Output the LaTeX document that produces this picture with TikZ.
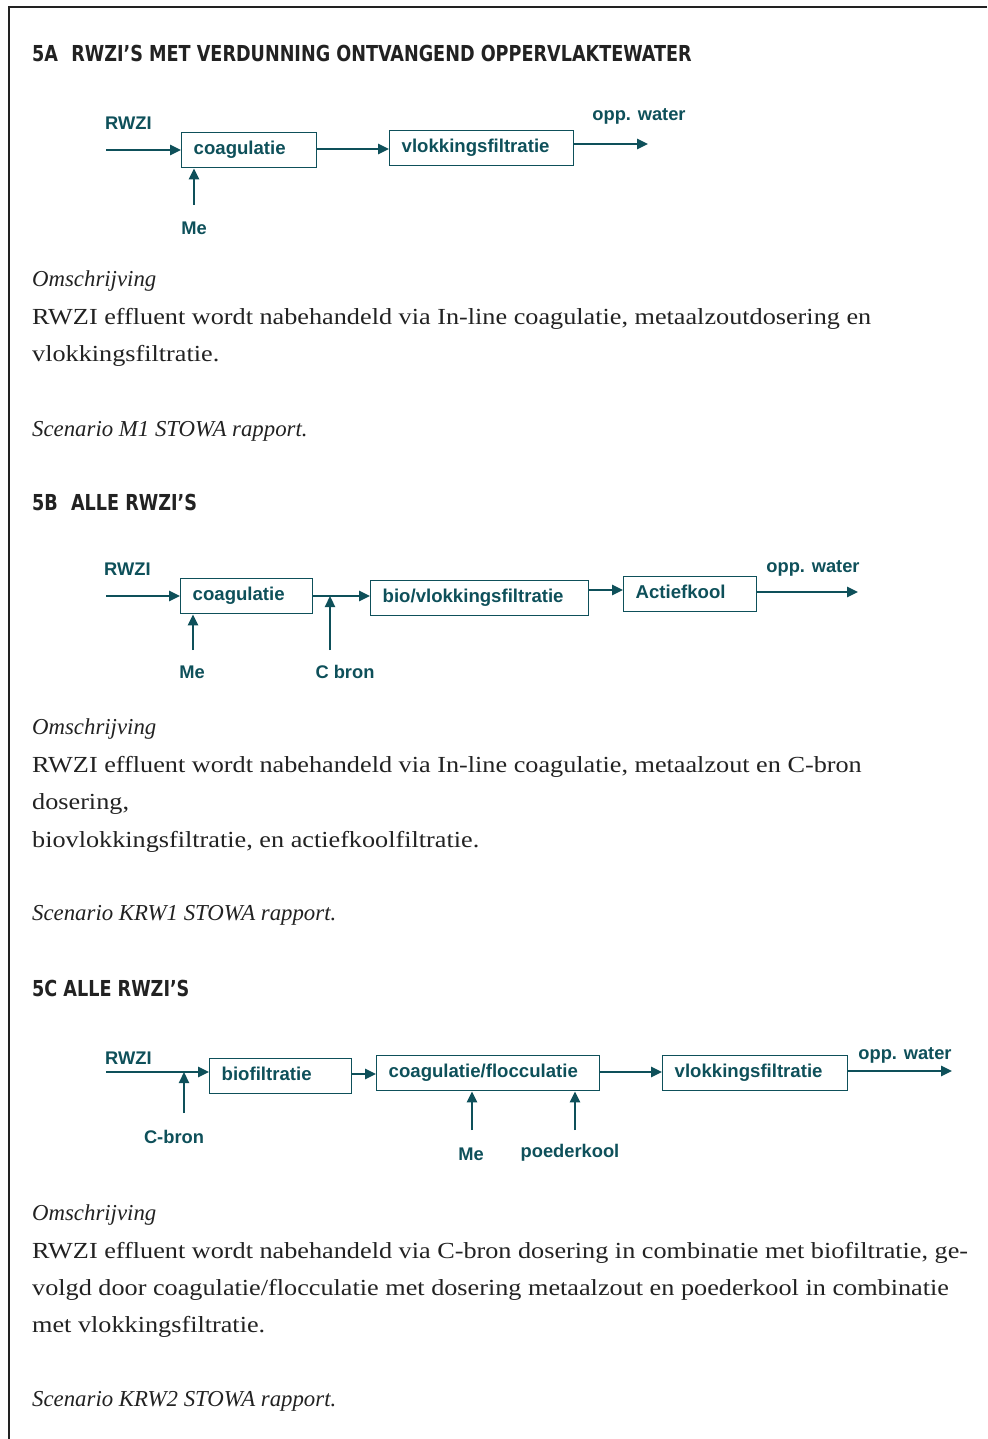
\documentclass[tikz,border=0pt]{standalone}
\usepackage{fontspec}
\setmainfont{Liberation Serif}
\newfontfamily\bodyrm[FakeStretch=1.14]{Liberation Serif}
\newfontfamily\diagfont{Liberation Sans}
\newfontfamily\headfont[FakeStretch=0.89]{DejaVu Sans Condensed}
\usetikzlibrary{arrows.meta}
\definecolor{teal}{RGB}{14,80,90}
\definecolor{ink}{RGB}{34,34,34}
\tikzset{
  frame/.style={draw=ink, line width=1.5pt},
  heading/.style={anchor=base west, inner sep=0pt, text=ink, font=\headfont\bfseries\fontsize{22}{26}\selectfont},
  body/.style={anchor=base west, inner sep=0pt, text=ink, font=\bodyrm\fontsize{23}{27}\selectfont},
  bodyit/.style={anchor=base west, inner sep=0pt, text=ink, font=\rmfamily\itshape\fontsize{22.8}{27}\selectfont},
  box/.style={draw=teal, line width=1.4pt, anchor=north west, align=left, inner xsep=12pt, inner ysep=0pt,
    minimum height=35pt, text height=13pt, text depth=4pt, text=teal, font=\diagfont\bfseries\fontsize{18.6}{20}\selectfont},
  lab/.style={inner sep=0pt, text=teal, font=\diagfont\bfseries\fontsize{18.3}{20}\selectfont},
  arr/.style={draw=teal, line width=2.5pt, -{Triangle[length=11pt,width=10pt]}},
  tap/.style={draw=teal, line width=2.3pt, -{Triangle[length=11pt,width=10pt]}},
}
\begin{document}
\begin{tikzpicture}[x=1pt, y=-1pt]
\useasboundingbox (0,0) rectangle (987,1439);
\fill[white] (0,0) rectangle (987,1439);
\draw[frame] (987,7) -- (9,7) -- (9,1439);

% ---------- 5A ----------
\node[heading] (h5a) at (32,62) {5A\hspace{0.6em}RWZI’S MET VERDUNNING ONTVANGEND OPPERVLAKTEWATER};

\node[lab, anchor=west] (rwziA) at (105,123) {RWZI};
\coordinate (inA) at (106,150);
\node[box, text width=111pt] (coagA) at (181,132) {coagulatie};
\node[box, text width=160pt] (vlokA) at (389,130) {vlokkingsfiltratie};
\node[lab] (meA) at (194,228) {Me};
\coordinate (meA0) at (194,205);
\node[lab] (oppA) at (639,116) {opp. water};
\coordinate (outA) at (648,144);
\draw[arr] (inA) -- (inA -| coagA.west);
\draw[tap] (meA0) -- (meA0 |- coagA.south);
\draw[arr] (coagA.east |- 0,149) -- (vlokA.west |- 0,149);
\draw[arr] (vlokA.east |- outA) -- (outA);

\node[bodyit] (omA) at (32,286) {Omschrijving};
\node[body] (tA1) at (32,324) {RWZI effluent wordt nabehandeld via In-line coagulatie, metaalzoutdosering en};
\node[body] (tA2) at (32,361) {vlokkingsfiltratie.};
\node[bodyit] (scA) at (32,436) {Scenario M1 STOWA rapport.};

% ---------- 5B ----------
\node[heading] (h5b) at (32,510) {5B\hspace{0.6em}ALLE RWZI’S};

\node[lab, anchor=west] (rwziB) at (104,569) {RWZI};
\coordinate (inB) at (106,596);
\node[box, text width=108pt] (coagB) at (180,578) {coagulatie};
\node[box, text width=194pt] (bioB) at (370,580) {bio/vlokkingsfiltratie};
\node[box, text width=109pt] (actB) at (623,576) {Actiefkool};
\node[lab] (meB) at (192,672) {Me};
\coordinate (meB0) at (193,650);
\node[lab] (cbB) at (345,672) {C bron};
\coordinate (cbB0) at (330,650);
\node[lab] (oppB) at (813,568) {opp. water};
\coordinate (outB) at (858,592);
\draw[arr] (inB) -- (inB -| coagB.west);
\draw[tap] (meB0) -- (meB0 |- coagB.south);
\draw[arr] (coagB.east |- 0,596) -- (bioB.west |- 0,596);
\draw[tap] (cbB0) -- (cbB0 |- 0,596);
\draw[arr] (bioB.east |- 0,590) -- (actB.west |- 0,590);
\draw[arr] (actB.east |- outB) -- (outB);

\node[bodyit] (omB) at (32,734) {Omschrijving};
\node[body] (tB1) at (32,772) {RWZI effluent wordt nabehandeld via In-line coagulatie, metaalzout en C-bron};
\node[body] (tB2) at (32,809) {dosering,};
\node[body] (tB3) at (32,847) {biovlokkingsfiltratie, en actiefkoolfiltratie.};
\node[bodyit] (scB) at (32,920) {Scenario KRW1 STOWA rapport.};

% ---------- 5C ----------
\node[heading] (h5c) at (32,996) {5C ALLE RWZI’S};

\node[lab, anchor=west] (rwziC) at (105,1058) {RWZI};
\coordinate (inC) at (106,1072);
\node[box, text width=118pt] (bioC) at (209,1058) {biofiltratie};
\node[box, text width=199pt] (coagC) at (376,1055) {coagulatie/flocculatie};
\node[box, text width=161pt] (vlokC) at (662,1055) {vlokkingsfiltratie};
\node[lab] (cbC) at (174,1137) {C-bron};
\coordinate (cbC0) at (184,1113);
\node[lab] (meC) at (471,1154) {Me};
\coordinate (meC0) at (472,1130);
\node[lab] (pkC) at (570,1153) {poederkool};
\coordinate (pkC0) at (575,1130);
\node[lab] (oppC) at (905,1055) {opp. water};
\coordinate (outC) at (952,1071);
\draw[arr] (inC) -- (inC -| bioC.west);
\draw[tap] (cbC0) -- (cbC0 |- inC);
\draw[arr] (bioC.east |- 0,1074) -- (coagC.west |- 0,1074);
\draw[tap] (meC0) -- (meC0 |- coagC.south);
\draw[tap] (pkC0) -- (pkC0 |- coagC.south);
\draw[arr] (coagC.east |- 0,1072) -- (vlokC.west |- 0,1072);
\draw[arr] (vlokC.east |- outC) -- (outC);

\node[bodyit] (omC) at (32,1220) {Omschrijving};
\node[body] (tC1) at (32,1258) {RWZI effluent wordt nabehandeld via C-bron dosering in combinatie met biofiltratie, ge-};
\node[body] (tC2) at (32,1295) {volgd door coagulatie/flocculatie met dosering metaalzout en poederkool in combinatie};
\node[body] (tC3) at (32,1332) {met vlokkingsfiltratie.};
\node[bodyit] (scC) at (32,1406) {Scenario KRW2 STOWA rapport.};
\end{tikzpicture}
\end{document}
